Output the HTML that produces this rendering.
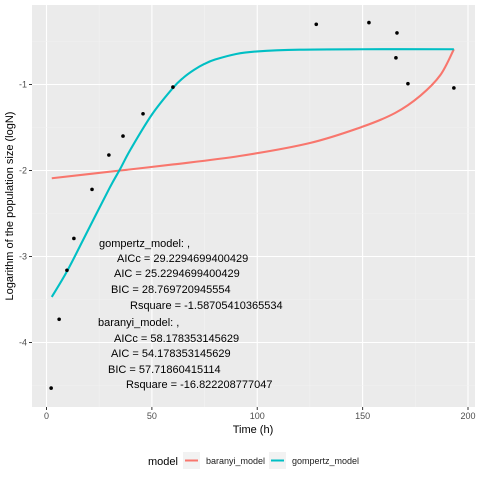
<!DOCTYPE html>
<html><head><meta charset="utf-8"><style>
body{margin:0;background:#fff;}
svg{display:block;font-family:"Liberation Sans",sans-serif;}
</style></head><body>
<svg id="chart" width="480" height="480">
<rect x="0" y="0" width="480" height="480" fill="#fff"/>
<rect x="32" y="5" width="443" height="402" fill="#ebebeb"/>
<g id="grid"></g>
<g id="series"></g>
<g id="points"></g>
<g id="ticks"></g>
<g font-size="11" fill="#000">
<text x="99" y="247">gompertz_model: ,</text>
<text x="117" y="262">AICc = 29.2294699400429</text>
<text x="114" y="277">AIC = 25.2294699400429</text>
<text x="111" y="293">BIC = 28.769720945554</text>
<text x="130" y="309">Rsquare = -1.58705410365534</text>
<text x="98" y="326">baranyi_model: ,</text>
<text x="114" y="342">AICc = 58.178353145629</text>
<text x="111" y="357">AIC = 54.178353145629</text>
<text x="108" y="373">BIC = 57.71860415114</text>
<text x="126" y="388">Rsquare = -16.822208777047</text>
</g>
<text x="253" y="433" font-size="11" text-anchor="middle">Time (h)</text>
<text transform="translate(13,206) rotate(-90)" font-size="11" text-anchor="middle">Logarithm of the population size (logN)</text>
<g>
<text x="148" y="465" font-size="11">model</text>
<g>
<rect x="183" y="452" width="17" height="17" fill="#f2f2f2"/>
<line x1="185" y1="460.5" x2="198" y2="460.5" stroke="#F8766D" stroke-width="2"/>
<text x="206" y="464" font-size="9" fill="#1a1a1a">baranyi_model</text>
</g>
<g>
<rect x="269" y="452" width="17" height="17" fill="#f2f2f2"/>
<line x1="271" y1="460.5" x2="284" y2="460.5" stroke="#00BFC4" stroke-width="2"/>
<text x="292" y="464" font-size="9" fill="#1a1a1a">gompertz_model</text>
</g>
</g>
</svg>
<script>
const obsTime=[2.2,6,9.7,13,21.6,29.6,36.3,45.8,60,128,153,166.3,165.8,171.5,193.3];
const obsLogN=[-4.53,-3.73,-3.16,-2.79,-2.22,-1.82,-1.6,-1.34,-1.03,-0.30,-0.28,-0.40,-0.69,-0.99,-1.04];
const gompTime=[2.5,10,20,30,35,40,50,60,65,70,75,80,90,100,120,150,193.3];
const gompLogN=[-3.47,-3.16,-2.68,-2.2,-1.98,-1.75,-1.35,-1.04,-0.92,-0.83,-0.76,-0.71,-0.645,-0.615,-0.595,-0.59,-0.59];
const barTime=[2.5,35,60,92,125,150,165.5,177.4,186.9,193.3];
const barLogN=[-2.09,-2.0,-1.93,-1.83,-1.68,-1.49,-1.33,-1.13,-0.89,-0.59];
const xTicks=[0,50,100,150,200];
const yTicks=[-1,-2,-3,-4];
const NS="http://www.w3.org/2000/svg";
const X=t=>46.5+t*2.1075;
const Y=v=>84.5+(-1-v)*86;
function mk(tag,attrs,parent){const e=document.createElementNS(NS,tag);for(const k in attrs)e.setAttribute(k,attrs[k]);parent.appendChild(e);return e;}
const grid=document.getElementById('grid'),ticks=document.getElementById('ticks');
for(let i=0;i<xTicks.length;i++){
  const t=xTicks[i];
  if(i<xTicks.length-1){mk('line',{x1:X(t+25),x2:X(t+25),y1:5,y2:407,stroke:'#f2f2f2','stroke-width':0.6},grid);}
  const g=mk('line',{x1:X(t),x2:X(t),y1:5,y2:407,stroke:'#fff','stroke-width':1.1},grid);
  
  
  mk('line',{x1:X(t),x2:X(t),y1:407,y2:410,stroke:'#333','stroke-width':1},ticks);
  const tx=mk('text',{x:X(t),y:419,'font-size':9,'text-anchor':'middle',fill:'#4d4d4d'},ticks);
  tx.textContent=t;
  
  
}
for(const v of [-0.5,-1.5,-2.5,-3.5,-4.5]) mk('line',{x1:32,x2:475,y1:Y(v),y2:Y(v),stroke:'#f2f2f2','stroke-width':0.6},grid);
for(const v of yTicks){
  const g=mk('line',{x1:32,x2:475,y1:Y(v),y2:Y(v),stroke:'#fff','stroke-width':1.1},grid);
  
  
  mk('line',{x1:29,x2:32,y1:Y(v),y2:Y(v),stroke:'#333','stroke-width':1},ticks);
  const tx=mk('text',{x:27,y:Y(v)+3,'font-size':9,'text-anchor':'end',fill:'#4d4d4d'},ticks);
  tx.textContent=v;
  
  
}
function smooth(xs,ys){
  const p=xs.map((t,i)=>[X(t),Y(ys[i])]);
  let d='M'+p[0][0]+','+p[0][1];
  for(let i=0;i<p.length-1;i++){
    const p0=p[i-1]||p[i],p1=p[i],p2=p[i+1],p3=p[i+2]||p2;
    const c1=[p1[0]+(p2[0]-p0[0])/6,p1[1]+(p2[1]-p0[1])/6];
    const c2=[p2[0]-(p3[0]-p1[0])/6,p2[1]-(p3[1]-p1[1])/6];
    d+=` C${c1[0]},${c1[1]} ${c2[0]},${c2[1]} ${p2[0]},${p2[1]}`;
  }
  return d;
}
const series=document.getElementById('series');
const b=mk('path',{d:smooth(barTime,barLogN),fill:'none',stroke:'#F8766D','stroke-width':2.1},series);


const g=mk('path',{d:smooth(gompTime,gompLogN),fill:'none',stroke:'#00BFC4','stroke-width':2.1},series);


const pts=document.getElementById('points');
for(let i=0;i<obsTime.length;i++){
  const c=mk('circle',{cx:X(obsTime[i]),cy:Y(obsLogN[i]),r:1.8,fill:'#000'},pts);
  
  
}
</script>
</body></html>
